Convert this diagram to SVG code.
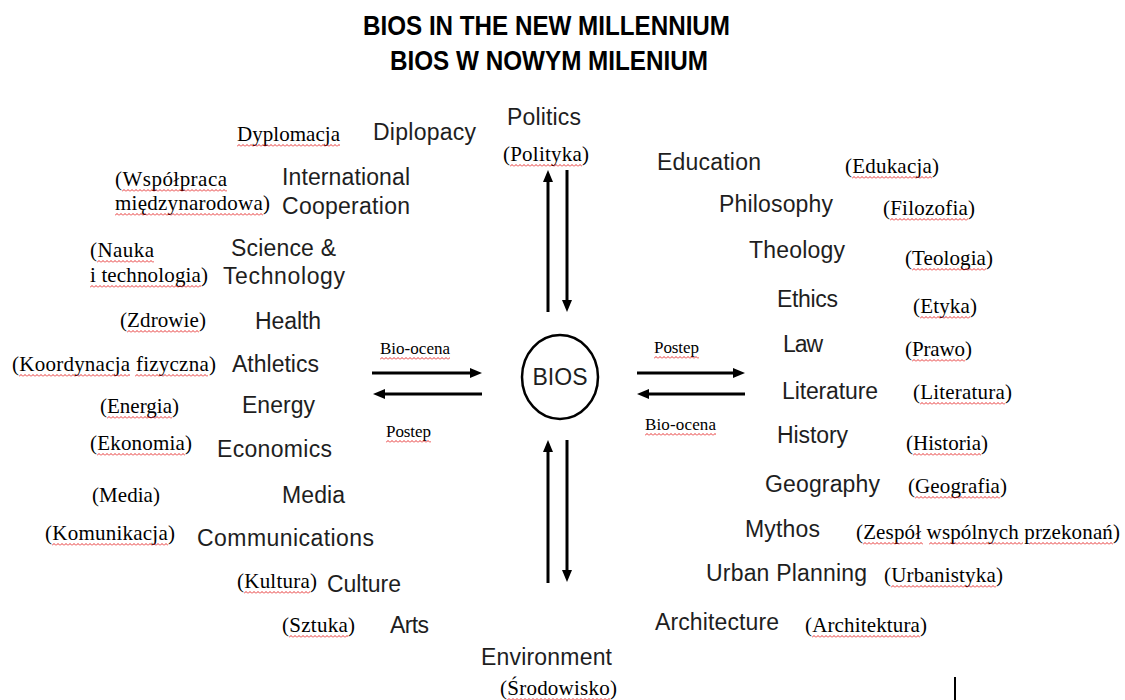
<svg xmlns="http://www.w3.org/2000/svg" width="1125" height="700" viewBox="0 0 1125 700">
<style>
.t{font-family:"Liberation Sans",Arial,sans-serif;font-weight:bold;font-size:28px;fill:#000}
.en{font-family:"Liberation Sans",Arial,sans-serif;font-size:23px;fill:#1e1e1e}
.pl{font-family:"Liberation Serif","Times New Roman",serif;font-size:21px;fill:#000}
.lb{font-family:"Liberation Serif","Times New Roman",serif;font-size:17px;fill:#000}
.ar{stroke:#000;stroke-width:3;fill:none;marker-end:url(#ah)}
.ul{fill:url(#wave)}
</style>
<defs>
<marker id="ah" markerUnits="userSpaceOnUse" markerWidth="12" markerHeight="10" refX="0" refY="5" orient="auto">
<path d="M0,0 L12,5 L0,10 z" fill="#000"/>
</marker>
<pattern id="wave" patternUnits="userSpaceOnUse" width="4" height="3">
<path d="M0,2.5 L2,0.5 L4,2.5" stroke="#e00000" stroke-width="0.8" fill="none"/>
</pattern>
</defs>
<rect width="1125" height="700" fill="#fff"/>
<g id="title">
<text class="t" x="363" y="35" textLength="367" lengthAdjust="spacingAndGlyphs">BIOS IN THE NEW MILLENNIUM</text>
<text class="t" x="390" y="70" textLength="318" lengthAdjust="spacingAndGlyphs">BIOS W NOWYM MILENIUM</text>
</g>
<g id="connectors">
<line class="ar" x1="372" y1="373" x2="470" y2="373"/>
<line class="ar" x1="482" y1="394" x2="385" y2="394"/>
<line class="ar" x1="637" y1="373" x2="733" y2="373"/>
<line class="ar" x1="745" y1="394" x2="649" y2="394"/>
<line class="ar" x1="548" y1="312" x2="548" y2="182"/>
<line class="ar" x1="567" y1="170" x2="567" y2="300"/>
<line class="ar" x1="548" y1="583" x2="548" y2="452"/>
<line class="ar" x1="567" y1="440" x2="567" y2="570"/>
<line x1="955" y1="677" x2="955" y2="700" stroke="#000" stroke-width="2"/>
</g>
<g id="arrow-labels">
<text class="lb" x="380" y="354" textLength="70">Bio-ocena</text>
<rect class="ul" width="70" height="3" transform="translate(380,357)"/>
<text class="lb" x="386" y="437" textLength="45">Postep</text>
<rect class="ul" width="45" height="3" transform="translate(386,440)"/>
<text class="lb" x="654" y="353" textLength="45">Postep</text>
<rect class="ul" width="45" height="3" transform="translate(654,356)"/>
<text class="lb" x="645" y="430" textLength="71">Bio-ocena</text>
<rect class="ul" width="71" height="3" transform="translate(645,433)"/>
</g>
<g id="bios">
<ellipse cx="560" cy="377" rx="38" ry="42" fill="none" stroke="#000" stroke-width="2.5"/>
<text class="en" x="560" y="385" text-anchor="middle" font-size="23">BIOS</text>
</g>
<g id="politics">
<text class="en" x="507" y="125" textLength="74">Politics</text>
<text class="pl" x="503" y="161" textLength="86">(Polityka)</text>
<rect class="ul" width="72" height="3" transform="translate(510,164)"/>
</g>
<g id="environment">
<text class="en" x="481" y="665" textLength="131">Environment</text>
<text class="pl" x="500" y="695" textLength="117">(Środowisko)</text>
<rect class="ul" width="103" height="3" transform="translate(507,698)"/>
</g>
<g id="diplomacy">
<text class="en" x="373" y="140" textLength="103">Diplopacy</text>
<text class="pl" x="237" y="141" textLength="103">Dyplomacja</text>
<rect class="ul" width="103" height="3" transform="translate(237,144)"/>
</g>
<g id="international-cooperation">
<text class="en" x="282" y="185" textLength="128">International</text>
<text class="en" x="282" y="214" textLength="128">Cooperation</text>
<text class="pl" x="115" y="186" textLength="112">(Współpraca</text>
<text class="pl" x="115" y="210" textLength="155">międzynarodowa)</text>
<rect class="ul" width="105" height="3" transform="translate(122,189)"/>
<rect class="ul" width="148" height="3" transform="translate(115,213)"/>
</g>
<g id="science-technology">
<text class="en" x="231" y="256" textLength="105">Science &amp;</text>
<text class="en" x="223" y="284" textLength="122">Technology</text>
<text class="pl" x="90" y="257" textLength="64">(Nauka</text>
<text class="pl" x="90" y="282" textLength="118">i technologia)</text>
<rect class="ul" width="57" height="3" transform="translate(97,260)"/>
<rect class="ul" width="111" height="3" transform="translate(90,285)"/>
</g>
<g id="health">
<text class="en" x="255" y="329" textLength="66">Health</text>
<text class="pl" x="120" y="327" textLength="86">(Zdrowie)</text>
<rect class="ul" width="72" height="3" transform="translate(127,330)"/>
</g>
<g id="athletics">
<text class="en" x="232" y="372" textLength="87">Athletics</text>
<text class="pl" x="12" y="371" textLength="204">(Koordynacja fizyczna)</text>
<rect class="ul" width="111" height="3" transform="translate(19,374)"/>
<rect class="ul" width="73" height="3" transform="translate(135,374)"/>
</g>
<g id="energy">
<text class="en" x="242" y="413" textLength="73">Energy</text>
<text class="pl" x="100" y="413" textLength="79">(Energia)</text>
<rect class="ul" width="65" height="3" transform="translate(107,416)"/>
</g>
<g id="economics">
<text class="en" x="217" y="457" textLength="115">Economics</text>
<text class="pl" x="90" y="450" textLength="102">(Ekonomia)</text>
<rect class="ul" width="88" height="3" transform="translate(97,453)"/>
</g>
<g id="media">
<text class="en" x="282" y="503" textLength="63">Media</text>
<text class="pl" x="92" y="502" textLength="68">(Media)</text>
</g>
<g id="communications">
<text class="en" x="197" y="546" textLength="177">Communications</text>
<text class="pl" x="45" y="540" textLength="130">(Komunikacja)</text>
<rect class="ul" width="116" height="3" transform="translate(52,543)"/>
</g>
<g id="culture">
<text class="en" x="327" y="592" textLength="74">Culture</text>
<text class="pl" x="237" y="588" textLength="80">(Kultura)</text>
<rect class="ul" width="66" height="3" transform="translate(244,591)"/>
</g>
<g id="arts">
<text class="en" x="390" y="633" textLength="39">Arts</text>
<text class="pl" x="282" y="632" textLength="73">(Sztuka)</text>
<rect class="ul" width="59" height="3" transform="translate(289,635)"/>
</g>
<g id="education">
<text class="en" x="657" y="170" textLength="104">Education</text>
<text class="pl" x="845" y="173" textLength="94">(Edukacja)</text>
<rect class="ul" width="80" height="3" transform="translate(852,176)"/>
</g>
<g id="philosophy">
<text class="en" x="719" y="212" textLength="114">Philosophy</text>
<text class="pl" x="883" y="215" textLength="92">(Filozofia)</text>
<rect class="ul" width="78" height="3" transform="translate(890,218)"/>
</g>
<g id="theology">
<text class="en" x="749" y="258" textLength="96">Theology</text>
<text class="pl" x="905" y="265" textLength="88">(Teologia)</text>
<rect class="ul" width="74" height="3" transform="translate(912,268)"/>
</g>
<g id="ethics">
<text class="en" x="777" y="307" textLength="61">Ethics</text>
<text class="pl" x="913" y="313" textLength="64">(Etyka)</text>
<rect class="ul" width="50" height="3" transform="translate(920,316)"/>
</g>
<g id="law">
<text class="en" x="783" y="352" textLength="40">Law</text>
<text class="pl" x="905" y="356" textLength="67">(Prawo)</text>
<rect class="ul" width="53" height="3" transform="translate(912,359)"/>
</g>
<g id="literature">
<text class="en" x="782" y="399" textLength="96">Literature</text>
<text class="pl" x="913" y="399" textLength="99">(Literatura)</text>
<rect class="ul" width="85" height="3" transform="translate(920,402)"/>
</g>
<g id="history">
<text class="en" x="777" y="443" textLength="71">History</text>
<text class="pl" x="906" y="450" textLength="82">(Historia)</text>
<rect class="ul" width="68" height="3" transform="translate(913,453)"/>
</g>
<g id="geography">
<text class="en" x="765" y="492" textLength="115">Geography</text>
<text class="pl" x="908" y="493" textLength="99">(Geografia)</text>
<rect class="ul" width="85" height="3" transform="translate(915,496)"/>
</g>
<g id="mythos">
<text class="en" x="745" y="537" textLength="75">Mythos</text>
<text class="pl" x="856" y="539" textLength="264">(Zespół wspólnych przekonań)</text>
<rect class="ul" width="60" height="3" transform="translate(863,542)"/>
<rect class="ul" width="94" height="3" transform="translate(929,542)"/>
<rect class="ul" width="84" height="3" transform="translate(1029,542)"/>
</g>
<g id="urban-planning">
<text class="en" x="706" y="581" textLength="161">Urban Planning</text>
<text class="pl" x="884" y="582" textLength="119">(Urbanistyka)</text>
<rect class="ul" width="105" height="3" transform="translate(891,585)"/>
</g>
<g id="architecture">
<text class="en" x="655" y="630" textLength="124">Architecture</text>
<text class="pl" x="805" y="632" textLength="122">(Architektura)</text>
<rect class="ul" width="108" height="3" transform="translate(812,635)"/>
</g>
</svg>
